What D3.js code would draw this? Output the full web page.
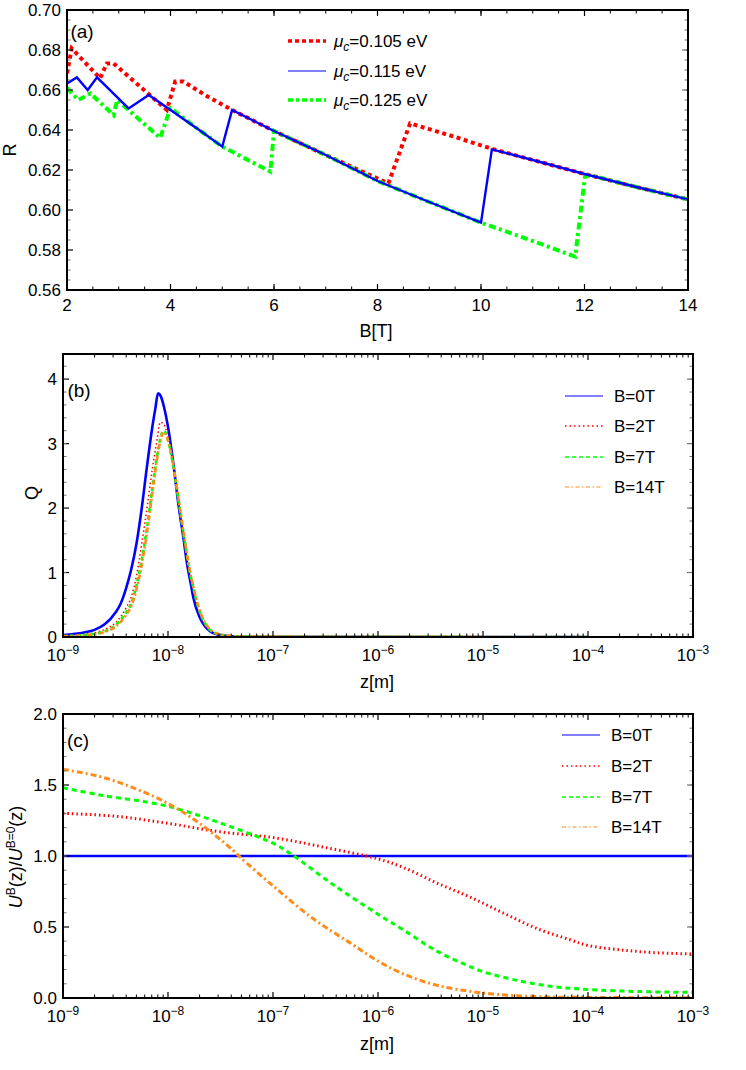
<!DOCTYPE html>
<html>
<head>
<meta charset="utf-8">
<script src="https://cdn.jsdelivr.net/npm/d3@7"></script>
<style>
  body { margin: 0; background: white; }
  svg { display: block; font-family: "Liberation Sans", Arial, sans-serif; }
</style>
</head>
<body>
<svg id="chart" width="746" height="1070"></svg>
<script>
// ---- panel (a): R vs B, one list of [B, R] per chemical potential
const muLabels = ['0.105', '0.115', '0.125']
const rMu105 = [[2.0,0.6683],[2.09,0.6808],[2.64,0.6658],[2.77,0.6733],[2.9,0.6733],[3.93,0.650],[4.09,0.6642],
  [4.25,0.6642],[4.7,0.657],[5.19,0.650],[6,0.6395],[7,0.6275],[8.21,0.6133],[8.63,0.6433],[9.5,0.6365],[10.18,0.6308],
  [11,0.625],[12,0.618],[13,0.6115],[14,0.6053]]
const rMu115 = [[2.0,0.6633],[2.19,0.6663],[2.4,0.660],[2.58,0.6663],[3.19,0.6508],[3.58,0.6575],[4,0.650],[4.5,0.641],
  [5.0,0.6317],[5.19,0.650],[6,0.6395],[7,0.6275],[8,0.6145],[9,0.604],[10.0,0.5937],[10.21,0.6303],[11,0.625],
  [12,0.618],[13,0.6115],[14,0.6053]]
const rMu125 = [[2.0,0.661],[2.22,0.655],[2.45,0.6583],[2.9,0.6475],[2.97,0.655],[3.8,0.636],[4.0,0.651],[4.5,0.641],
  [5.0,0.6317],[5.93,0.6192],[6.0,0.6395],[7,0.6275],[8,0.6145],[9,0.604],[10.0,0.5937],[11,0.5845],[11.82,0.5767],
  [12.01,0.6167],[12.1,0.6175],[13,0.6115],[14,0.6053]]

// ---- panel (b): Q vs log10(z)
const qB0 = [[-9,0.03],[-8.8,0.07],[-8.7,0.11],[-8.6,0.2],[-8.5,0.38],[-8.45,0.52],[-8.4,0.75],[-8.35,1.05],[-8.3,1.45],
  [-8.25,2.0],[-8.2,2.65],[-8.15,3.25],[-8.12,3.55],[-8.095,3.78],[-8.07,3.74],[-8.04,3.58],[-8.0,3.26],[-7.95,2.7],
  [-7.9,2.05],[-7.85,1.5],[-7.82,1.15],[-7.78,0.8],[-7.76,0.62],[-7.7,0.31],[-7.65,0.17],[-7.6,0.09],[-7.5,0.03],
  [-7.3,0.005],[-4,0]]
const qB2 = [[-9,0.02],[-8.8,0.04],[-8.6,0.12],[-8.5,0.22],[-8.4,0.45],[-8.35,0.62],[-8.3,0.95],[-8.25,1.45],[-8.2,2.0],
  [-8.15,2.6],[-8.1,3.1],[-8.075,3.33],[-8.04,3.3],[-8.0,3.1],[-7.95,2.65],[-7.9,2.1],[-7.85,1.55],[-7.8,1.05],
  [-7.75,0.68],[-7.7,0.38],[-7.65,0.2],[-7.6,0.1],[-7.5,0.03],[-7.3,0.005],[-4,0]]
const qB7 = [[-9,0.015],[-8.8,0.03],[-8.6,0.09],[-8.5,0.18],[-8.4,0.38],[-8.35,0.52],[-8.3,0.8],[-8.25,1.2],[-8.2,1.7],
  [-8.15,2.3],[-8.1,2.85],[-8.07,3.1],[-8.04,3.2],[-8.0,3.05],[-7.95,2.65],[-7.9,2.12],[-7.85,1.58],[-7.8,1.08],
  [-7.75,0.7],[-7.7,0.4],[-7.65,0.22],[-7.6,0.11],[-7.5,0.035],[-7.3,0.006],[-4,0]]
const qB14 = [[-9,0.012],[-8.8,0.025],[-8.6,0.08],[-8.5,0.16],[-8.4,0.34],[-8.35,0.48],[-8.3,0.74],[-8.25,1.12],
  [-8.2,1.62],[-8.15,2.22],[-8.1,2.8],[-8.07,3.06],[-8.04,3.18],[-8.0,3.05],[-7.95,2.67],[-7.9,2.15],[-7.85,1.6],
  [-7.8,1.1],[-7.75,0.72],[-7.7,0.42],[-7.65,0.23],[-7.6,0.12],[-7.5,0.04],[-7.3,0.007],[-4,0]]

// ---- panel (c): U^B/U^0 vs log10(z)
const uB0 = [[-9,1],[-3,1]]
const uB2 = [[-9,1.30],[-8.5,1.28],[-8,1.23],[-7.5,1.17],[-7,1.13],[-6.5,1.06],[-6,0.98],[-5.76,0.92],[-5.44,0.81],
  [-5.12,0.71],[-4.81,0.60],[-4.49,0.49],[-4.17,0.41],[-4,0.37],[-3.7,0.34],[-3.38,0.32],[-3,0.31]]
const uB7 = [[-9,1.48],[-8.65,1.43],[-8,1.35],[-7.38,1.2],[-7,1.09],[-6.84,1.02],[-6.43,0.8],[-6,0.59],[-5.76,0.48],
  [-5.44,0.33],[-5.12,0.22],[-5,0.185],[-4.65,0.12],[-4.33,0.08],[-4,0.06],[-3.5,0.045],[-3,0.04]]
const uB14 = [[-9,1.61],[-8.65,1.56],[-8.33,1.48],[-8,1.37],[-7.7,1.23],[-7.38,1.04],[-7.31,0.99],[-7,0.79],
  [-6.62,0.56],[-6.27,0.39],[-6,0.26],[-5.76,0.17],[-5.44,0.09],[-5,0.035],[-4.5,0.01],[-4,0.004],[-3,0.002]]

const bLabels = ['B=0T', 'B=2T', 'B=7T', 'B=14T']
const aTicksX = [2, 4, 6, 8, 10, 12, 14]
const aTicksY = [0.56, 0.58, 0.60, 0.62, 0.64, 0.66, 0.68, 0.70]
const bTicksY = [0, 1, 2, 3, 4]
const cTicksY = [0, 0.5, 1.0, 1.5, 2.0]
const decades = [-9, -8, -7, -6, -5, -4, -3]

const RED = '#ff0000', BLUE = '#0000ff', GREEN = '#00ff00', ORANGE = '#ff8c1a'
const FS = 17

const svg = d3.select('#chart')

function linTicks(lo, hi, step) {
  let arr = []
  for (let v = lo; v <= hi + 1e-9; v += step) arr.push(+v.toFixed(6))
  return arr
}

function logMinor(lo, hi) {
  let arr = []
  for (let d = lo; d < hi; d++) {
    for (let k = 2; k <= 9; k++) arr.push(d + Math.log10(k))
  }
  return arr
}

// mathematica like frame: ticks inside on all four sides
function frame(g, x, y, xMajor, xMinor, yMajor, yMinor) {
  let [x0, x1] = x.range()
  let [y0, y1] = y.range()
  let tick = (list, len, color, width) => {
    list.forEach(v => {
      let px = x(v)
      g.append('line').attr('x1', px).attr('x2', px).attr('y1', y0).attr('y2', y0 - len)
        .attr('stroke', color).attr('stroke-width', width)
      g.append('line').attr('x1', px).attr('x2', px).attr('y1', y1).attr('y2', y1 + len)
        .attr('stroke', color).attr('stroke-width', width)
    })
  }
  tick(xMajor, 6, '#000', 1.2)
  tick(xMinor, 3.5, '#000', 1)
  let tickY = (list, len, color, width) => {
    list.forEach(v => {
      let py = y(v)
      g.append('line').attr('x1', x0).attr('x2', x0 + len).attr('y1', py).attr('y2', py)
        .attr('stroke', color).attr('stroke-width', width)
      g.append('line').attr('x1', x1).attr('x2', x1 - len).attr('y1', py).attr('y2', py)
        .attr('stroke', '#777').attr('stroke-width', width)
    })
  }
  tickY(yMajor, 6, '#000', 1.2)
  tickY(yMinor, 3.5, '#777', 1)
  g.append('rect')
    .attr('x', x0).attr('y', y1)
    .attr('width', x1 - x0).attr('height', y0 - y1)
    .attr('fill', 'none').attr('stroke', '#000').attr('stroke-width', 2)
}

function yLabels(g, x, y, list, fmt) {
  g.selectAll(null).data(list).enter().append('text')
    .attr('x', x.range()[0] - 6).attr('y', d => y(d) + 6)
    .attr('text-anchor', 'end').attr('font-size', FS)
    .text(fmt)
}

function powLabels(g, x, y) {
  let base = y.range()[0]
  decades.forEach(d => {
    let t = g.append('text')
      .attr('x', x(d)).attr('y', base + 24)
      .attr('text-anchor', 'middle').attr('font-size', FS)
    t.append('tspan').text('10')
    t.append('tspan').attr('dy', -7).attr('font-size', 12).text('\u2212' + (-d))
  })
}

function drawLine(g, x, y, data, color, width, dash, curve) {
  let line = d3.line().x(d => x(d[0])).y(d => y(d[1])).curve(curve || d3.curveLinear)
  g.append('path').datum(data)
    .attr('d', line)
    .attr('fill', 'none').attr('stroke', color)
    .attr('stroke-width', width)
    .attr('stroke-dasharray', dash)
    .attr('stroke-linejoin', 'miter')
}

function clip(id, x, y) {
  svg.append('clipPath').attr('id', id).append('rect')
    .attr('x', x.range()[0]).attr('y', y.range()[1])
    .attr('width', x.range()[1] - x.range()[0]).attr('height', y.range()[0] - y.range()[1])
}

function legend(g, x0, ys, items, textX) {
  items.forEach((it, i) => {
    g.append('line').attr('x1', x0).attr('x2', x0 + 38).attr('y1', ys[i]).attr('y2', ys[i])
      .attr('stroke', it.color).attr('stroke-width', it.width).attr('stroke-dasharray', it.dash)
    let t = g.append('text').attr('x', textX).attr('y', ys[i] + 6).attr('font-size', FS)
    it.text(t)
  })
}

// ================= panel (a)
let xa = d3.scaleLinear().domain([2, 14]).range([67, 688])
let ya = d3.scaleLinear().domain([0.56, 0.70]).range([290, 10])
let ga = svg.append('g')
clip('clipA', xa, ya)
let la = ga.append('g').attr('clip-path', 'url(#clipA)')
drawLine(la, xa, ya, rMu105, RED, 4, '4 3.5')
drawLine(la, xa, ya, rMu125, GREEN, 4, '7 3.5 3 3.5')
drawLine(la, xa, ya, rMu115, BLUE, 2.4, null)
frame(ga, xa, ya, aTicksX, linTicks(2, 14, 0.5), aTicksY, linTicks(0.56, 0.70, 0.005))
yLabels(ga, xa, ya, aTicksY, d => d.toFixed(2))
ga.selectAll(null).data(aTicksX).enter().append('text')
  .attr('x', d => xa(d)).attr('y', 311).attr('text-anchor', 'middle').attr('font-size', FS)
  .text(d => d)
ga.append('text').attr('x', 376).attr('y', 337).attr('text-anchor', 'middle').attr('font-size', 18).text('B[T]')
ga.append('text').attr('transform', 'translate(16,150) rotate(-90)').attr('text-anchor', 'middle')
  .attr('font-size', 18).text('R')
ga.append('text').attr('x', 82).attr('y', 38).attr('text-anchor', 'middle').attr('font-size', 19).text('(a)')

let muText = v => t => {
  t.append('tspan').attr('font-style', 'italic').text('\u03bc')
  t.append('tspan').attr('font-style', 'italic').attr('font-size', 12).attr('dy', 4).text('c')
  t.append('tspan').attr('dy', -4).text('=' + v + ' eV')
}
legend(ga, 288, [41, 71, 100], [
  { color: RED, width: 3.5, dash: '4 3', text: muText(muLabels[0]) },
  { color: BLUE, width: 1.2, dash: null, text: muText(muLabels[1]) },
  { color: GREEN, width: 3.5, dash: '5 3 3 3', text: muText(muLabels[2]) }
], 334)

// ================= panel (b)
let xb = d3.scaleLinear().domain([-9, -3]).range([63, 693])
let yb = d3.scaleLinear().domain([0, 4.39]).range([637, 354])
let gb = svg.append('g')
clip('clipB', xb, yb)
let lb = gb.append('g').attr('clip-path', 'url(#clipB)')
let smooth = d3.curveMonotoneX
drawLine(lb, xb, yb, qB0, BLUE, 2.6, null, smooth)
drawLine(lb, xb, yb, qB2, RED, 1.5, '1.5 2.5', smooth)
drawLine(lb, xb, yb, qB7, GREEN, 2.6, '4 3', smooth)
drawLine(lb, xb, yb, qB14, ORANGE, 2.6, '5 2.5 2 2.5', smooth)
frame(gb, xb, yb, decades, logMinor(-9, -3), bTicksY, linTicks(0, 4.2, 0.2))
yLabels(gb, xb, yb, bTicksY, d => d)
powLabels(gb, xb, yb)
gb.append('text').attr('x', 377).attr('y', 688).attr('text-anchor', 'middle').attr('font-size', 18).text('z[m]')
gb.append('text').attr('transform', 'translate(38,493) rotate(-90)').attr('text-anchor', 'middle')
  .attr('font-size', 18).text('Q')
gb.append('text').attr('x', 79).attr('y', 397).attr('text-anchor', 'middle').attr('font-size', 19).text('(b)')

let plain = v => t => t.text(v)
legend(gb, 565, [396, 426, 457, 487], [
  { color: BLUE, width: 1.2, dash: null, text: plain(bLabels[0]) },
  { color: RED, width: 1.6, dash: '1.5 3', text: plain(bLabels[1]) },
  { color: GREEN, width: 1.3, dash: '4 3', text: plain(bLabels[2]) },
  { color: ORANGE, width: 1.2, dash: '4 2.5 1.5 2.5', text: plain(bLabels[3]) }
], 614)

// ================= panel (c)
let xc = d3.scaleLinear().domain([-9, -3]).range([63, 693])
let yc = d3.scaleLinear().domain([0, 2]).range([998, 714])
let gc = svg.append('g')
clip('clipC', xc, yc)
let lc = gc.append('g').attr('clip-path', 'url(#clipC)')
let smoothC = d3.curveCatmullRom.alpha(0.5)
drawLine(lc, xc, yc, uB0, BLUE, 2.6, null)
drawLine(lc, xc, yc, uB2, RED, 3, '1.5 3', smoothC)
drawLine(lc, xc, yc, uB7, GREEN, 3, '5 4', smoothC)
drawLine(lc, xc, yc, uB14, ORANGE, 3, '6 3 2 3', smoothC)
frame(gc, xc, yc, decades, logMinor(-9, -3), cTicksY, linTicks(0, 2, 0.1))
yLabels(gc, xc, yc, cTicksY, d => d.toFixed(1))
powLabels(gc, xc, yc)
gc.append('text').attr('x', 377).attr('y', 1050).attr('text-anchor', 'middle').attr('font-size', 18).text('z[m]')
let ul = gc.append('text').attr('transform', 'translate(22,857) rotate(-90)').attr('text-anchor', 'middle')
  .attr('font-size', 18)
ul.append('tspan').attr('font-style', 'italic').text('U')
ul.append('tspan').attr('font-size', 12).attr('dy', -7).text('B')
ul.append('tspan').attr('dy', 7).text('(z)/')
ul.append('tspan').attr('font-style', 'italic').text('U')
ul.append('tspan').attr('font-size', 12).attr('dy', -7).text('B=0')
ul.append('tspan').attr('dy', 7).text('(z)')
gc.append('text').attr('x', 78).attr('y', 747).attr('text-anchor', 'middle').attr('font-size', 19).text('(c)')

legend(gc, 562, [735, 766, 797, 827], [
  { color: BLUE, width: 1.2, dash: null, text: plain(bLabels[0]) },
  { color: RED, width: 1.6, dash: '1.5 3', text: plain(bLabels[1]) },
  { color: GREEN, width: 1.3, dash: '4 3', text: plain(bLabels[2]) },
  { color: ORANGE, width: 1.2, dash: '4 2.5 1.5 2.5', text: plain(bLabels[3]) }
], 611)
</script>
</body>
</html>
